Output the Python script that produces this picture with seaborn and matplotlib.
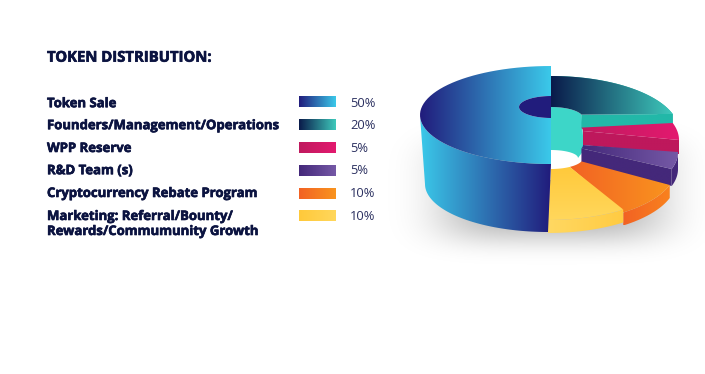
import numpy as np
import seaborn as sns
import matplotlib.pyplot as plt
import matplotlib.patheffects as pe
from matplotlib.patches import Polygon

labels = ['Token Sale', 'Founders/Management/Operations', 'WPP Reserve', 'R&D Team (s)',
          'Cryptocurrency Rebate Program', 'Marketing: Referral/Bounty/\nRewards/Commumunity Growth']
shares = [50, 20, 5, 5, 10, 10]
title = 'TOKEN DISTRIBUTION:'

# gradient ends for the top of each slice, also used by the legend swatches
colors = [('#211C7C', '#3BC9EA'), ('#0A1A4A', '#3EC9BB'), ('#BF1A5E', '#E3196F'),
          ('#44287A', '#7559A6'), ('#F26224', '#F9941E'), ('#FFC93A', '#FFD75C')]
wall_colors = [('#3BC9EA', '#211C7C'), ('#22B8A8', '#22B8A8'), ('#BE185C', '#BE185C'),
               ('#44287A', '#44287A'), ('#F26224', '#F9821E'), ('#FFD862', '#FFCB42')]

# layout in pixels: the right hand slices sit like stair steps
center_x = [551, 551, 551, 550, 548, 548]
outer_y = [115, 131, 140, 152, 168, 165]
inner_y = [107, 118, 131, 145, 158, 158]
depth = [67, 14, 14, 17, 13, 13]
rx, ry = 128, 55
hole_rx, hole_ry = 32, 11
swatch_y = [96, 119, 142, 165, 188, 210]
label_y = [103.7, 125.7, 148.5, 170.7, 193.5, 224]
percent_y = [103, 125, 148, 170, 193, 216]

sns.set_theme(style='white')
plt.rcParams['font.family'] = ['Open Sans', 'DejaVu Sans']
fig, ax = plt.subplots(figsize=(7.05, 3.74), dpi=100)
fig.subplots_adjust(0, 0, 1, 1)

# let pie work out the slice angles, the 3d shapes are built on them
wedges, _ = ax.pie(shares, startangle=270, counterclock=False)
angles = [(w.theta1, w.theta2) for w in wedges]
for w in wedges:
    w.remove()
ax.set_aspect('auto')


def arc(cx, cy, a, b, t1, t2, n=60):
    t = np.radians(np.linspace(t1, t2, n))
    return np.column_stack([cx + a * np.cos(t), cy - b * np.sin(t)])


def fill(pts, c1, c2, vertical=False, z=2):
    cmap = sns.blend_palette([c1, c2], n_colors=256, as_cmap=True)
    x0, y0 = pts.min(axis=0)
    x1, y1 = pts.max(axis=0)
    grad = np.linspace(0, 1, 256).reshape(1, -1)
    if vertical:
        grad = grad.T
    im = ax.imshow(grad, cmap=cmap, extent=(x0, x1, y1, y0), aspect='auto', zorder=z)
    im.set_clip_path(Polygon(pts, closed=True, transform=ax.transData))


# soft shadow under the disc
gx, gy = np.meshgrid(np.linspace(380, 705, 200), np.linspace(100, 290, 120))
shadow = np.zeros(gx.shape + (4,))
shadow[..., 3] = 0.3 * np.exp(-((gx - 552) / 114) ** 4 - ((gy - 190) / 52) ** 4)
ax.imshow(shadow, extent=(380, 705, 290, 100), aspect='auto', zorder=1, interpolation='bilinear')

# white backing for the hole, then the turquoise inside wall above it
ax.add_patch(Polygon(np.array([[548, 145], [590, 145], [590, 180], [548, 180]]), closed=True,
                     fc='white', ec='none', zorder=1.5))
hole_top = arc(551, inner_y[1], hole_rx, hole_ry, 90, 18, 20)
hole_low = arc(551, 158, 27, 8, 0, 90, 20)
ax.add_patch(Polygon(np.vstack([hole_top, [[584, 150]], hole_low]), closed=True, fc='#3DD6C8', ec='none', zorder=2))

# right side slices, drawn back to front
for i in range(1, 6):
    t1, t2 = angles[i]
    cx, oy, iy, d = center_x[i], outer_y[i], inner_y[i], depth[i]
    outer = arc(cx, oy, rx, ry, t2, t1)
    inner = arc(551, iy, hole_rx, hole_ry, t1, t2)
    # cut face along the lower edge of the slice
    if i < 4:
        o, n = outer[-1], inner[0]
        side = np.array([n, o, o + [0, d], n + [0, d]])
        fill(side, wall_colors[i][0], wall_colors[i][1], z=2 + i * 0.1)
    # rim
    if i >= 3 or i == 1:
        rim = np.vstack([outer, (outer + [0, d])[::-1]])
        fill(rim, wall_colors[i][0], wall_colors[i][1], z=2 + i * 0.1)
    fill(np.vstack([outer, inner]), colors[i][0], colors[i][1], vertical=(i == 5), z=2.05 + i * 0.1)

# big half disc in front
t1, t2 = angles[0]
top = arc(center_x[0], outer_y[0], 131, 49, t1, t2)
front = arc(center_x[0], outer_y[0], 131, 49, 180, 270)
back = arc(548, outer_y[0] + 69, 123, 48, 270, 180)
fill(np.vstack([front, back]), wall_colors[0][0], wall_colors[0][1], z=3)
hole = arc(551, inner_y[0], hole_rx, hole_ry, 270, 90)
fill(np.vstack([top, hole]), colors[0][0], colors[0][1], z=3.1)
ax.add_patch(Polygon(arc(551, inner_y[0], hole_rx, hole_ry, 90, 270), closed=True, fc='#211C7C', ec='none', zorder=3.1))

# legend block, the stroke makes the bold a bit heavier
heavy = [pe.withStroke(linewidth=0.45, foreground='#0B1340')]
ax.text(47, 57.7, title, fontsize=10.7, fontweight='bold', color='#0B1340', va='center', ha='left', path_effects=heavy)
for i, lab in enumerate(labels):
    ax.text(47, label_y[i], lab, fontsize=9.45, fontweight='bold', color='#0B1340', va='center', ha='left',
            linespacing=1.2, path_effects=heavy)
    y0 = swatch_y[i]
    fill(np.array([[299, y0], [336, y0], [336, y0 + 11], [299, y0 + 11]]), colors[i][0], colors[i][1])
    ax.text(350, percent_y[i], f'{shares[i]}%', fontsize=9.3, color='#2B3060', va='center', ha='left')

ax.set_xlim(0, 705)
ax.set_ylim(374, 0)
ax.axis('off')
fig.savefig('out.png', dpi=100)
